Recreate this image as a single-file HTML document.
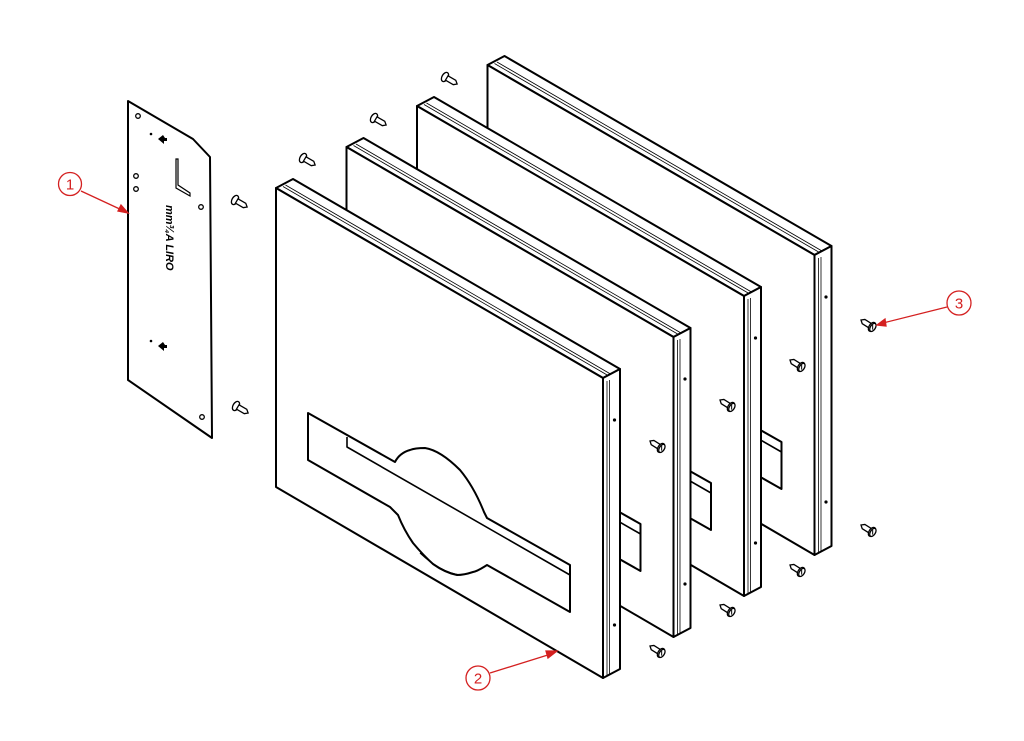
<!DOCTYPE html>
<html><head><meta charset="utf-8"><style>
html,body{margin:0;padding:0;background:#fff;}
svg{display:block;}
</style></head><body>
<svg width="1024" height="741" viewBox="0 0 1024 741" xmlns="http://www.w3.org/2000/svg">
<defs>
<g id="panel" stroke="#000" fill="#fff" stroke-linejoin="round">
  <polygon points="276,188 293,179 620,369 603,378" stroke-width="2"/>
  <line x1="283" y1="186.5" x2="608" y2="375.5" stroke-width="0.8"/>
  <line x1="285.5" y1="185" x2="610.5" y2="374" stroke-width="0.8"/>
  <polygon points="603,378 620,369 620,669 603,678" stroke-width="2"/>
  <line x1="607" y1="381" x2="607" y2="675" stroke-width="0.8"/>
  <line x1="609.5" y1="380" x2="609.5" y2="674" stroke-width="0.8"/>
  <circle cx="614.5" cy="420" r="1.6" fill="#000" stroke="none"/>
  <circle cx="614.5" cy="625" r="1.6" fill="#000" stroke="none"/>
  <polygon points="276,188 603,378 603,678 276,487" stroke-width="2"/>
  <path d="M308,413 L395,462 C398,456 403,452 410,450 C415,448 420,448 425,448 C438,450 450,460 460,470 C470,482 478,497 484,512 L487,518 L570,565 L570,612 L487,565 C482,568 478,571 473,572 C467,574 462,575 457,575 C447,573 440,569 433,564 C424,556 418,549 413,543 C406,533 402,525 398,515 L390,507 L308,460 Z" stroke-width="2"/>
  <path d="M347,437 L347,447 L570,575" fill="none" stroke-width="1.6"/>
  <path d="M420,553 Q440,572 460,575" fill="none" stroke-width="1.2"/>
</g>
<g id="screwR" stroke="#000" fill="#fff" stroke-width="1.3">
  <path d="M0,0 L3,-2.5 L11,-2.5 L11,2.5 L3,2.5 Z"/>
  <ellipse cx="13" cy="0" rx="3" ry="5"/>
  <ellipse cx="14" cy="0" rx="2.5" ry="4.5"/>
  <line x1="12.5" y1="-2" x2="15" y2="2" stroke-width="1"/>
</g>
<g id="screwL" stroke="#000" fill="#fff" stroke-width="1.3">
  <ellipse cx="0" cy="0" rx="3" ry="5"/>
  <path d="M2,-2.5 L11,-2.5 L14,0 L11,2.5 L2,2.5 Z"/>
</g>
</defs>

<use href="#panel" transform="translate(211.5,-123)"/>
<use href="#panel" transform="translate(141,-82)"/>
<use href="#panel" transform="translate(70.5,-41)"/>
<use href="#panel"/>

<g stroke="#000" fill="#fff">
  <polygon points="128,101 193,139 210,157 212,438 128,380" stroke-width="2" stroke-linejoin="round"/>
  <circle cx="138" cy="116" r="2.3" stroke-width="1.3"/>
  <circle cx="136" cy="176" r="2.3" stroke-width="1.3"/>
  <circle cx="136" cy="189" r="2.3" stroke-width="1.3"/>
  <circle cx="201" cy="207" r="2.3" stroke-width="1.3"/>
  <circle cx="202" cy="417" r="2.3" stroke-width="1.3"/>
  <circle cx="151" cy="134" r="1.3" fill="#000" stroke="none"/>
  <circle cx="151" cy="341" r="1.3" fill="#000" stroke="none"/>
  <path d="M158,139 l5,-4 l2,3 l2,0 l0,3 l-3,0 l0,3 z" fill="#000" stroke="none"/>
  <path d="M158,346 l5,-4 l2,3 l2,0 l0,3 l-3,0 l0,3 z" fill="#000" stroke="none"/>
  <path d="M176,159 L178,159 L178,185 L190,193 L190,196 L176,188 Z" stroke-width="1.2"/>
  <text x="0" y="0" transform="translate(166,205) rotate(90)" font-family="Liberation Sans, sans-serif" font-weight="bold" font-style="italic" font-size="11" fill="#000" stroke="none">mm¾A LIRO</text>
</g>

<g transform="translate(235,200) rotate(30)"><use href="#screwL"/></g>
<g transform="translate(236,406) rotate(30)"><use href="#screwL"/></g>
<g transform="translate(303,158) rotate(30)"><use href="#screwL"/></g>
<g transform="translate(374,118) rotate(30)"><use href="#screwL"/></g>
<g transform="translate(445,77) rotate(30)"><use href="#screwL"/></g>

<g transform="translate(861,320) rotate(32)"><use href="#screwR"/></g>
<g transform="translate(790,360) rotate(32)"><use href="#screwR"/></g>
<g transform="translate(720,400) rotate(32)"><use href="#screwR"/></g>
<g transform="translate(650,441) rotate(32)"><use href="#screwR"/></g>
<g transform="translate(861,525) rotate(32)"><use href="#screwR"/></g>
<g transform="translate(790,565) rotate(32)"><use href="#screwR"/></g>
<g transform="translate(720,605) rotate(32)"><use href="#screwR"/></g>
<g transform="translate(650,646) rotate(32)"><use href="#screwR"/></g>

<g stroke="#d42020" fill="none" stroke-width="1.3">
  <circle cx="70" cy="184" r="11.5"/>
  <line x1="81" y1="191" x2="124" y2="211"/>
  <polygon points="128,213 118,211 121,205" fill="#d42020"/>
  <circle cx="478" cy="678" r="12"/>
  <line x1="490" y1="673" x2="551" y2="654"/>
  <polygon points="557,651 548,658 546,651" fill="#d42020"/>
  <circle cx="959" cy="303" r="12"/>
  <line x1="947" y1="307" x2="883" y2="323"/>
  <polygon points="877,325 885,319 886,326" fill="#d42020"/>
</g>
<g fill="#d42020" font-family="Liberation Sans, sans-serif" font-size="15" text-anchor="middle">
  <text x="70" y="189.5">1</text>
  <text x="478" y="683.5">2</text>
  <text x="959" y="308.5">3</text>
</g>
</svg>
</body></html>
